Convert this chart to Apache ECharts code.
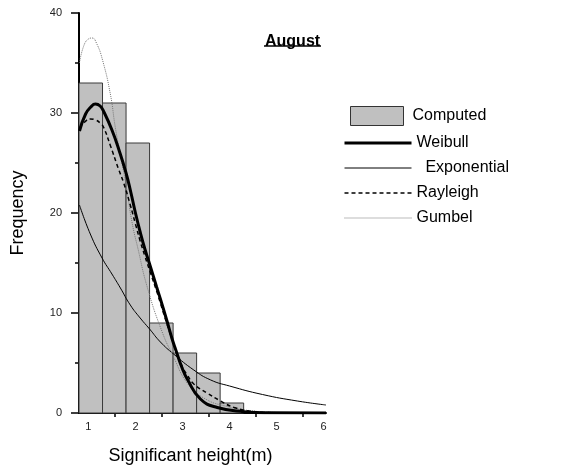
<!DOCTYPE html>
<html>
<head>
<meta charset="utf-8">
<script src="https://cdn.jsdelivr.net/npm/echarts@6/dist/echarts.min.js"></script>
<style>
  html, body { margin: 0; padding: 0; background: #fff; }
  #chart { width: 561px; height: 470px; }
</style>
</head>
<body>
<div id="chart"></div>
<script>
// histogram bins (m) and computed counts
const binEdges = [0.8, 1.3, 1.8, 2.3, 2.8, 3.3, 3.8, 4.3]
const computed = [33, 31, 27, 9, 6, 4, 1]

// fitted curves: [height, frequency]
const weibull = [[0.81, 28.2], [0.94, 29.9], [1.05, 30.6], [1.15, 30.9], [1.25, 30.7], [1.33, 30.1],
  [1.5, 28.3], [1.65, 26.3], [1.8, 24.0], [1.9, 22.1], [2.0, 20.0], [2.1, 18.1], [2.2, 16.4],
  [2.32, 14.6], [2.45, 12.6], [2.53, 11.4], [2.67, 9.2], [2.78, 7.4], [2.85, 6.4], [3.0, 4.4],
  [3.1, 3.4], [3.38, 1.4], [3.74, 0.55], [4.3, 0.13], [4.8, 0.02], [6.05, 0]]
const exponential = [[0.81, 20.8], [1.04, 17.9], [1.29, 15.5], [1.5, 13.9], [1.68, 12.5], [1.89, 10.8],
  [2.1, 9.5], [2.3, 8.4], [2.53, 7.1], [2.81, 5.9], [3.24, 4.3], [3.6, 3.3], [4.0, 2.7],
  [4.7, 1.85], [5.44, 1.2], [6.05, 0.8]]
const rayleigh = [[0.81, 28.5], [0.92, 29.1], [1.04, 29.4], [1.15, 29.3], [1.25, 29.0], [1.32, 28.6],
  [1.47, 26.7], [1.64, 24.4], [1.75, 23.0], [1.89, 20.8], [2.0, 18.9], [2.1, 17.2], [2.2, 15.7],
  [2.32, 14.0], [2.45, 12.2], [2.53, 11.0], [2.67, 8.9], [2.85, 6.4], [3.0, 4.6], [3.1, 3.8],
  [3.24, 2.9], [3.52, 2.0], [3.81, 1.2], [4.1, 0.55], [4.5, 0.15], [5.0, 0.03], [6.05, 0]]
const gumbel = [[0.81, 35.0], [0.9, 36.7], [1.0, 37.4], [1.08, 37.5], [1.17, 37.0], [1.3, 35.3],
  [1.47, 31.8], [1.57, 28.6], [1.68, 25.8], [1.8, 22.8], [1.93, 19.0], [2.05, 16.5], [2.25, 12.6],
  [2.56, 8.2], [2.81, 5.6], [3.1, 3.0], [3.45, 1.5], [3.95, 0.65], [4.5, 0.2], [5.0, 0.05], [6.05, 0]]

// axis labels / ticks
const xLabels = [1, 2, 3, 4, 5, 6]
const xTicks = [1.55, 2.55, 3.55, 4.55, 5.55]

const font = 'Liberation Sans, Arial, sans-serif'

const barData = computed.map((v, i) => [binEdges[i], binEdges[i + 1], v])

const styles = {
  Weibull: { color: '#000', width: 3 },
  Exponential: { color: '#000', width: 1 },
  Rayleigh: { color: '#000', width: 1.5, type: [4, 3] },
  Gumbel: { color: '#777', width: 1, type: [1, 1] }
}

function curve(name, data) {
  return {
    name: name,
    type: 'line',
    data: data,
    smooth: true,
    symbol: 'none',
    itemStyle: { color: styles[name].color },
    lineStyle: styles[name]
  }
}

const myChart = echarts.init(document.getElementById('chart'))
const option = {
  animation: false,
  title: {
    text: 'August',
    left: 260,
    top: 29,
    textStyle: { fontFamily: font, fontSize: 16, fontWeight: 'bold', color: '#000' }
  },
  graphic: [
    // underline under the title
    { type: 'line', shape: { x1: 264, y1: 46, x2: 321, y2: 46 }, style: { stroke: '#000', lineWidth: 1.5 } }
  ],
  legend: [
    {
      data: [{ name: 'Computed', icon: 'rect', itemStyle: { color: '#c0c0c0', borderColor: '#333', borderWidth: 1 } }],
      left: 345,
      top: 101,
      itemWidth: 53,
      itemHeight: 19,
      itemGap: 0,
      textStyle: { fontFamily: font, fontSize: 16, color: '#000', padding: [0, 0, 0, 4] }
    },
    {
      data: ['Weibull', 'Exponential', 'Rayleigh', 'Gumbel'].map(n => ({ name: n, lineStyle: styles[n] })),
      orient: 'vertical',
      left: 338,
      top: 130,
      itemWidth: 67,
      itemHeight: 14,
      itemGap: 9,
      itemStyle: { opacity: 0 },
      formatter: name => name === 'Exponential' ? '  ' + name : name,
      textStyle: { fontFamily: font, fontSize: 16, color: '#000' }
    }
  ],
  grid: { left: 79, top: 13, width: 247, height: 411 },
  xAxis: {
    type: 'value',
    min: 0.8,
    max: 6.05,
    name: 'Significant height(m)',
    nameLocation: 'middle',
    nameGap: 34,
    nameTextStyle: { fontFamily: font, fontSize: 18, color: '#000', padding: [0, 24, 0, 0] },
    splitLine: { show: false },
    axisLine: { lineStyle: { color: '#000', width: 2 } },
    axisTick: { customValues: xTicks, length: 4, lineStyle: { color: '#000', width: 1.5 } },
    axisLabel: { customValues: xLabels, fontFamily: font, fontSize: 11, color: '#222', margin: 8 }
  },
  yAxis: {
    type: 'value',
    min: 0,
    max: 40,
    interval: 10,
    name: 'Frequency',
    nameLocation: 'middle',
    nameRotate: 90,
    nameGap: 52,
    nameTextStyle: { fontFamily: font, fontSize: 18, color: '#000' },
    splitLine: { show: false },
    axisLine: { show: true, lineStyle: { color: '#000', width: 2 } },
    axisTick: { show: true, length: 8, lineStyle: { color: '#000', width: 1.5 } },
    minorTick: { show: true, splitNumber: 2, length: 4, lineStyle: { color: '#000', width: 1.5 } },
    axisLabel: { fontFamily: font, fontSize: 11, color: '#222', margin: 17 }
  },
  series: [
    {
      name: 'Computed',
      type: 'custom',
      data: barData,
      encode: { x: [0, 1], y: 2 },
      itemStyle: { color: '#c0c0c0' },
      renderItem: (params, api) => {
        const p0 = api.coord([api.value(0), api.value(2)])
        const p1 = api.coord([api.value(1), 0])
        return {
          type: 'rect',
          shape: { x: p0[0], y: p0[1], width: p1[0] - p0[0], height: p1[1] - p0[1] },
          style: { fill: '#c0c0c0', stroke: '#3a3a3a', lineWidth: 1 }
        }
      }
    },
    curve('Exponential', exponential),
    curve('Gumbel', gumbel),
    curve('Rayleigh', rayleigh),
    curve('Weibull', weibull)
  ]
}
myChart.setOption(option)
</script>
</body>
</html>
